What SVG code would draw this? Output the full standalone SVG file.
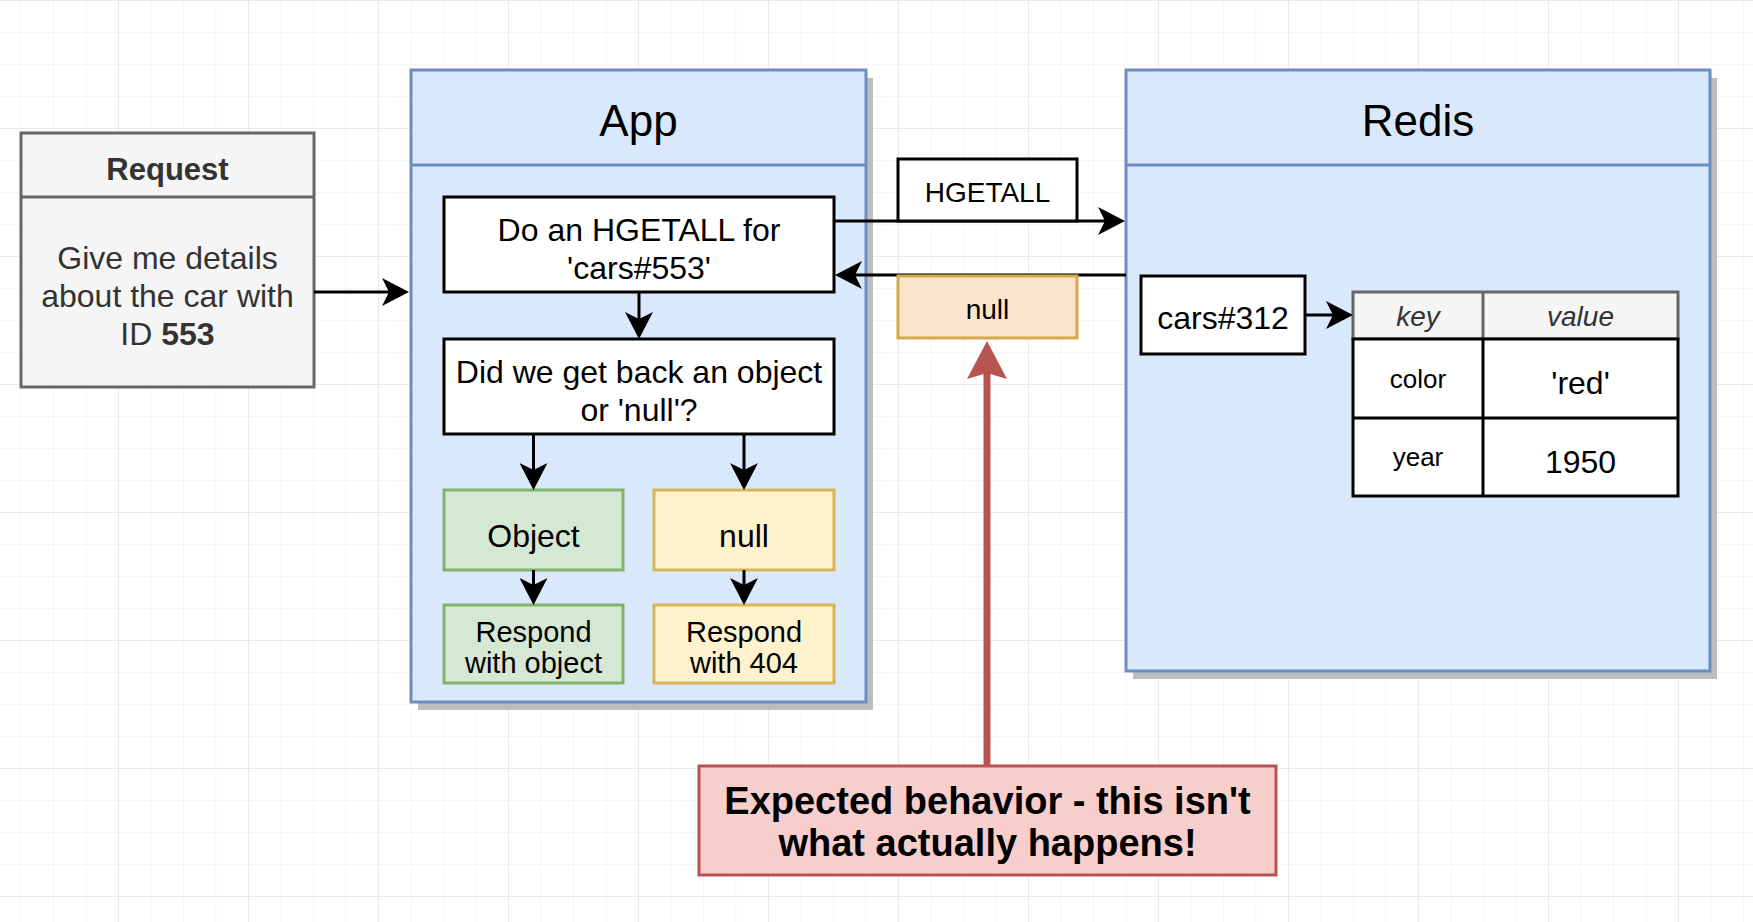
<svg xmlns="http://www.w3.org/2000/svg" width="1753" height="922" viewBox="0 0 1753 922">
<style>
  text { font-family: "Liberation Sans", Arial, Helvetica, sans-serif; fill: #000; }
  .c { text-anchor: middle; }
  .gray { fill: #333333; }
  .box { fill: #ffffff; stroke: #000; stroke-width: 3; }
  .cont { fill: #dae8fc; stroke: #6c8ebf; stroke-width: 3; }
  .shadow { fill: #bdbdbd; }
  .green { fill: #d5e8d4; stroke: #82b366; stroke-width: 3; }
  .yellow { fill: #fff2cc; stroke: #d6b656; stroke-width: 3; }
  .orange { fill: #fce5cd; stroke: #d6a84a; stroke-width: 3; }
  .red { fill: #f8cecc; stroke: #b85450; stroke-width: 3; }
  .conn { fill: none; stroke: #000; stroke-width: 3; marker-end: url(#arrow); }
  .redconn { fill: none; stroke: #b85450; stroke-width: 7; marker-end: url(#redarrow); }
  .f32 { font-size: 32px; }
  .f28 { font-size: 28px; }
</style>
<defs>
  <pattern id="minor" patternUnits="userSpaceOnUse" x="118" y="0" width="32.5" height="32">
    <path d="M0 0 V32 M0 0 H32.5" fill="none" stroke="#f3f3f3" stroke-width="1.5"/>
  </pattern>
  <pattern id="major" patternUnits="userSpaceOnUse" x="118" y="0" width="130" height="128">
    <path d="M0 0 V128 M0 0 H130" fill="none" stroke="#e6e6e6" stroke-width="1.5"/>
  </pattern>
  <marker id="arrow" markerUnits="userSpaceOnUse" viewBox="0 0 27 28" markerWidth="27" markerHeight="28" refX="21" refY="14" orient="auto">
    <path d="M27 14 L0 0 L7 14 L0 28 Z" fill="#000"/>
  </marker>
  <marker id="redarrow" markerUnits="userSpaceOnUse" viewBox="0 0 38 40" markerWidth="38" markerHeight="40" refX="30" refY="20" orient="auto">
    <path d="M38 20 L0 0 L6 20 L0 40 Z" fill="#b85450"/>
  </marker>
</defs>

<g id="background">
  <rect width="1753" height="922" fill="#ffffff"/>
  <rect width="1753" height="922" fill="url(#minor)"/>
  <rect width="1753" height="922" fill="url(#major)"/>
</g>

<g id="request">
  <rect x="21" y="133" width="293" height="254" fill="#f5f5f5" stroke="#666666" stroke-width="3"/>
  <line x1="21" y1="197" x2="314" y2="197" stroke="#666666" stroke-width="3"/>
  <text class="c gray" x="167.5" y="180" font-size="31" font-weight="bold">Request</text>
  <text class="c gray f32" x="167.5" y="269">Give me details</text>
  <text class="c gray f32" x="167.5" y="307">about the car with</text>
  <text class="c gray f32" x="167.5" y="345">ID <tspan font-weight="bold">553</tspan></text>
</g>

<g id="app">
  <rect class="shadow" x="418" y="78" width="455" height="632"/>
  <rect class="cont" x="411" y="70" width="455" height="632"/>
  <line x1="411" y1="165" x2="866" y2="165" stroke="#6c8ebf" stroke-width="3"/>
  <text class="c" x="638.5" y="136" font-size="44">App</text>
</g>

<g id="redis">
  <rect class="shadow" x="1133" y="78" width="584" height="601"/>
  <rect class="cont" x="1126" y="70" width="584" height="601"/>
  <line x1="1126" y1="165" x2="1710" y2="165" stroke="#6c8ebf" stroke-width="3"/>
  <text class="c" x="1418" y="136" font-size="44">Redis</text>
</g>

<g id="hgetall-step">
  <rect class="box" x="444" y="197" width="390" height="95"/>
  <text class="c f32" x="639" y="241">Do an HGETALL for</text>
  <text class="c f32" x="639" y="279">'cars#553'</text>
</g>

<g id="check-step">
  <rect class="box" x="444" y="339" width="390" height="95"/>
  <text class="c f32" x="639" y="383">Did we get back an object</text>
  <text class="c f32" x="639" y="421">or 'null'?</text>
</g>

<g id="object">
  <rect class="green" x="444" y="490" width="179" height="80"/>
  <text class="c f32" x="533.5" y="547">Object</text>
</g>

<g id="null-branch">
  <rect class="yellow" x="654" y="490" width="180" height="80"/>
  <text class="c f32" x="744" y="547">null</text>
</g>

<g id="respond-object">
  <rect class="green" x="444" y="605" width="179" height="78"/>
  <text class="c" x="533.5" y="642" font-size="29">Respond</text>
  <text class="c" x="533.5" y="673" font-size="29">with object</text>
</g>

<g id="respond-404">
  <rect class="yellow" x="654" y="605" width="180" height="78"/>
  <text class="c" x="744" y="642" font-size="29">Respond</text>
  <text class="c" x="744" y="673" font-size="29">with 404</text>
</g>

<g id="cars312">
  <rect class="box" x="1141" y="276" width="164" height="78"/>
  <text class="c f32" x="1223" y="329">cars#312</text>
</g>

<g id="hash-table">
  <rect x="1353" y="292" width="325" height="47" fill="#f5f5f5" stroke="#666666" stroke-width="3"/>
  <line x1="1483" y1="292" x2="1483" y2="339" stroke="#666666" stroke-width="3"/>
  <rect x="1353" y="339" width="325" height="157" fill="#ffffff" stroke="#000" stroke-width="3"/>
  <line x1="1353" y1="418" x2="1678" y2="418" stroke="#000" stroke-width="3"/>
  <line x1="1483" y1="339" x2="1483" y2="496" stroke="#000" stroke-width="3"/>
  <text class="c gray" x="1418" y="326" font-size="28" font-style="italic">key</text>
  <text class="c gray" x="1580.5" y="326" font-size="28" font-style="italic">value</text>
  <text class="c" x="1418" y="388" font-size="26">color</text>
  <text class="c f32" x="1580.5" y="394">'red'</text>
  <text class="c" x="1418" y="466" font-size="26">year</text>
  <text class="c f32" x="1580.5" y="473">1950</text>
</g>

<g id="connectors">
  <path class="conn" d="M314 292 H403"/>
  <path class="conn" d="M639 292 V333"/>
  <path class="conn" d="M834 221 H1119"/>
  <path class="conn" d="M1126 275 H841"/>
  <path class="conn" d="M533.5 434 V484"/>
  <path class="conn" d="M744 434 V484"/>
  <path class="conn" d="M533.5 570 V599"/>
  <path class="conn" d="M744 570 V599"/>
  <path class="conn" d="M1305 315 H1347"/>
  <path class="redconn" d="M987 766 V349"/>
</g>

<g id="hgetall-label">
  <rect class="box" x="898" y="159" width="179" height="62"/>
  <text class="c f28" x="987.5" y="202">HGETALL</text>
</g>

<g id="null-label">
  <rect class="orange" x="898" y="276" width="179" height="62"/>
  <text class="c f28" x="987.5" y="319">null</text>
</g>

<g id="expected-note">
  <rect class="red" x="699" y="766" width="577" height="109"/>
  <text class="c" x="987.5" y="814" font-size="38" font-weight="bold" fill="#111">Expected behavior - this isn't</text>
  <text class="c" x="987.5" y="856" font-size="38" font-weight="bold" fill="#111">what actually happens!</text>
</g>
</svg>
